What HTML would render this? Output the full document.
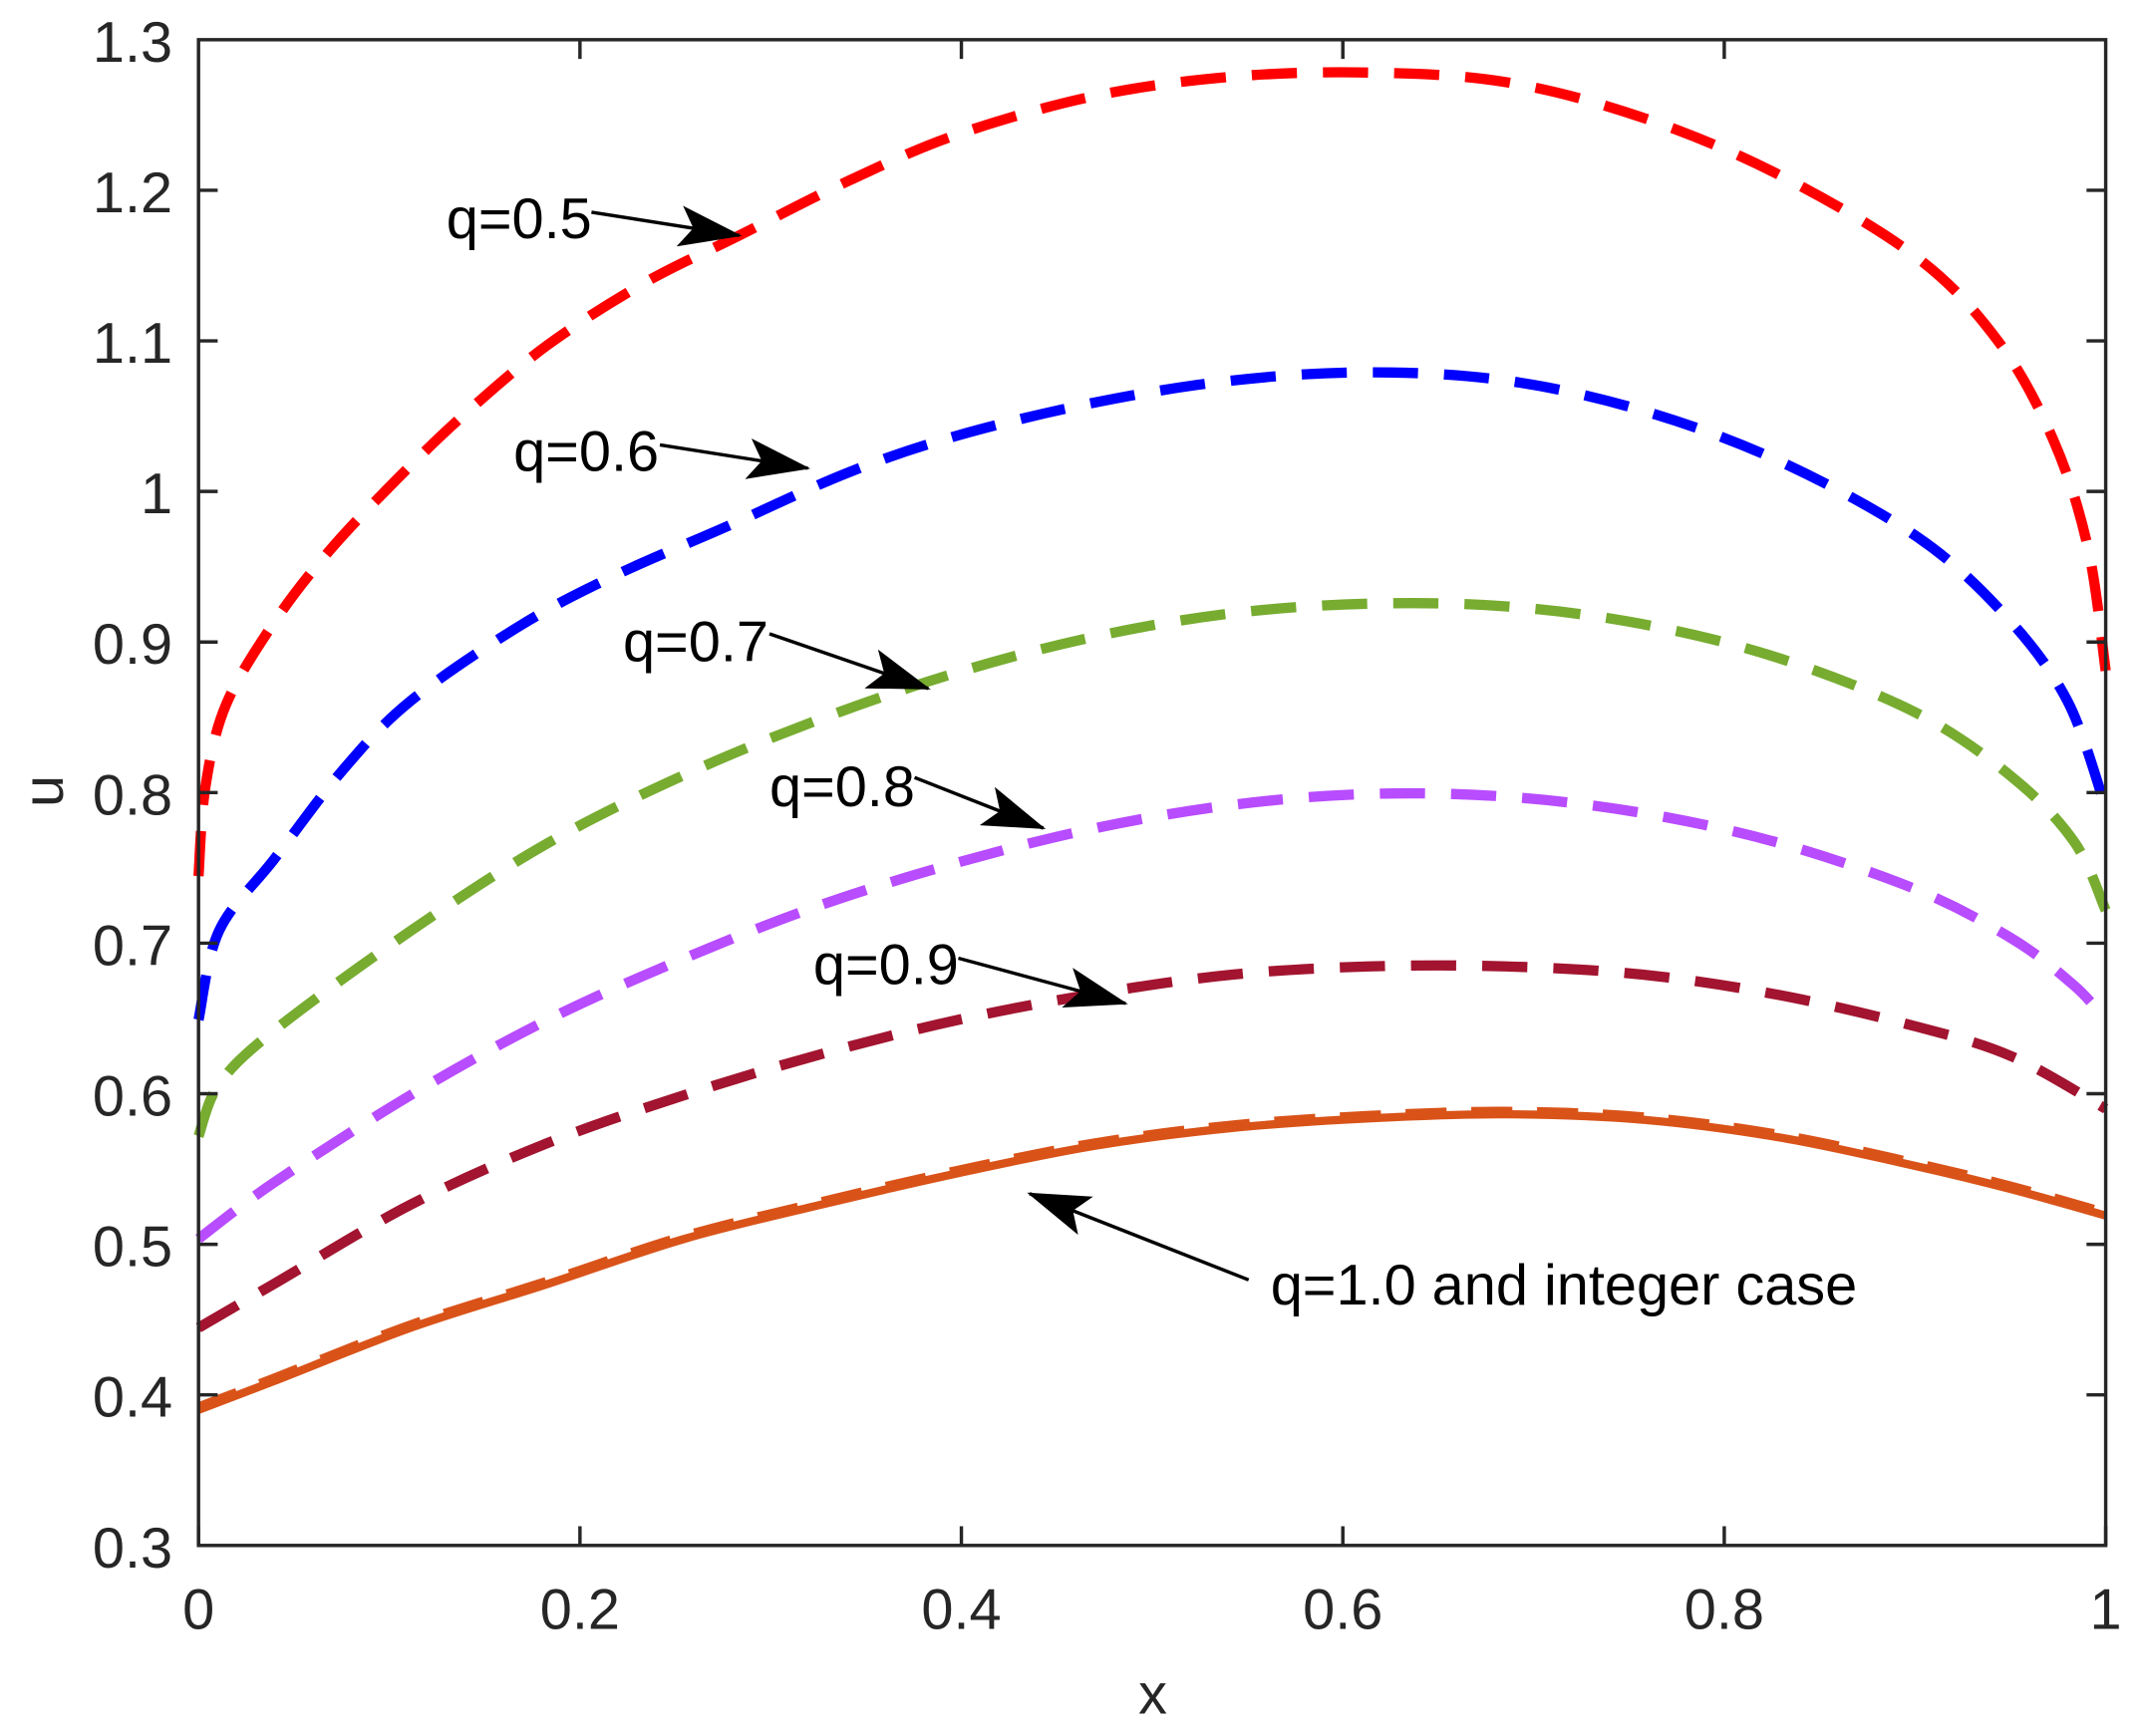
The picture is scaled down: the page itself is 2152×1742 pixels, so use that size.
<!DOCTYPE html>
<html><head><style>html,body{margin:0;padding:0;background:#fff}svg{display:block}</style></head>
<body>
<svg id="s" width="2152" height="1742" viewBox="0 0 1566.7 1268.2" xmlns="http://www.w3.org/2000/svg" font-family="Liberation Sans, sans-serif">
<rect width="1566.7" height="1268.2" fill="#fff"/>
<g fill="none" stroke-width="7.5" stroke-dasharray="33,19">
<path id="c1" stroke="#ff0000"/>
<path id="c2" stroke="#0000ff"/>
<path id="c3" stroke="#77ac30"/>
<path id="c4" stroke="#b84cff"/>
<path id="c5" stroke="#a2142f"/>
</g>
<path id="c6" fill="none" stroke="#d95319" stroke-width="6"/>
<path id="c7" fill="none" stroke="#d95319" stroke-width="7" stroke-dasharray="30,18"/>
<g stroke="#262626" stroke-width="2.5" fill="none">
<rect x="145" y="29" width="1393" height="1100"/>
<path d="M145,1129v-14M423.6,1129v-14M702.2,1129v-14M980.8,1129v-14M1259.4,1129v-14M1538,1129v-14M423.6,29v14M702.2,29v14M980.8,29v14M1259.4,29v14"/>
<path d="M145,139h14M145,249h14M145,359h14M145,469h14M145,579h14M145,689h14M145,799h14M145,909h14M145,1019h14M1538,139h-14M1538,249h-14M1538,359h-14M1538,469h-14M1538,579h-14M1538,689h-14M1538,799h-14M1538,909h-14M1538,1019h-14"/>
</g>
<g font-size="42" fill="#262626" text-anchor="end">
<text x="126" y="45">1.3</text><text x="126" y="155">1.2</text><text x="126" y="265">1.1</text><text x="126" y="375">1</text><text x="126" y="485">0.9</text><text x="126" y="595">0.8</text><text x="126" y="705">0.7</text><text x="126" y="815">0.6</text><text x="126" y="925">0.5</text><text x="126" y="1035">0.4</text><text x="126" y="1145">0.3</text>
</g>
<g font-size="42" fill="#262626" text-anchor="middle">
<text x="145" y="1190">0</text><text x="423.6" y="1190">0.2</text><text x="702.2" y="1190">0.4</text><text x="980.8" y="1190">0.6</text><text x="1259.4" y="1190">0.8</text><text x="1538" y="1190">1</text>
<text x="842" y="1252">x</text>
<text transform="translate(46,578) rotate(-90)">u</text>
</g>
<defs><marker id="a" markerWidth="46" markerHeight="30" refX="44" refY="15" orient="auto" markerUnits="userSpaceOnUse" viewBox="0 0 46 30"><path d="M0,0L46,15L0,30L10,15z" fill="#000"/></marker></defs>
<g stroke="#000" stroke-width="2.5">
<line x1="432" y1="155" x2="540" y2="172" marker-end="url(#a)"/>
<line x1="482" y1="325" x2="590" y2="342" marker-end="url(#a)"/>
<line x1="562" y1="463" x2="678" y2="503" marker-end="url(#a)"/>
<line x1="668" y1="568" x2="762" y2="605" marker-end="url(#a)"/>
<line x1="700" y1="700" x2="822" y2="733" marker-end="url(#a)"/>
<line x1="912" y1="935" x2="752" y2="872" marker-end="url(#a)"/>
</g>
<g font-size="42" fill="#000">
<text x="326" y="174">q=0.5</text>
<text x="375" y="344">q=0.6</text>
<text x="455" y="483">q=0.7</text>
<text x="562" y="589">q=0.8</text>
<text x="594" y="719">q=0.9</text>
<text x="928" y="953">q=1.0 and integer case</text>
</g>
</svg>
<script>
function cr(p){var d="M"+p[0][0]+","+p[0][1];for(var i=0;i<p.length-1;i++){var p0=p[i-1]||p[i],p1=p[i],p2=p[i+1],p3=p[i+2]||p2;
d+=" C"+(p1[0]+(p2[0]-p0[0])/6)+","+(p1[1]+(p2[1]-p0[1])/6)+" "+(p2[0]-(p3[0]-p1[0])/6)+","+(p2[1]-(p3[1]-p1[1])/6)+" "+p2[0]+","+p2[1];}return d;}
var D={
c1:[[145,640],[150,575],[165,515],[200,455],[240,403],[290,350],[340,302],[400,252],[470,207],[540,172],[620,132],[700,98],[800,70],[900,56],[1000,53],[1100,60],[1200,86],[1300,128],[1400,188],[1460,250],[1500,322],[1525,400],[1538,490]],
c2:[[145,745],[160,680],[200,628],[250,563],[300,512],[380,457],[450,420],[530,385],[620,345],[700,318],[800,294],[900,278],[1000,272],[1100,278],[1200,300],[1300,337],[1400,392],[1465,450],[1510,512],[1538,590]],
c3:[[145,830],[160,792],[200,753],[300,680],[400,616],[500,566],[600,525],[700,491],[800,465],[900,448],[1000,441],[1100,443],[1200,456],[1300,481],[1400,521],[1470,568],[1515,615],[1538,665]],
c4:[[145,905],[200,864],[300,800],[400,745],[500,700],[600,661],[700,630],[800,605],[900,588],[1000,580],[1100,582],[1200,594],[1300,616],[1400,650],[1470,686],[1515,720],[1538,745]],
c5:[[145,970],[200,938],[300,880],[400,835],[500,800],[600,770],[700,745],[800,726],[900,712],[1000,706],[1100,706],[1200,712],[1300,727],[1400,750],[1470,772],[1538,810]],
c6:[[145,1030],[200,1009],[300,970],[400,938],[500,905],[600,880],[700,857],[800,837],[900,824],[1000,817],[1100,814],[1200,818],[1300,831],[1400,852],[1470,869],[1538,888]]};
D.c7=D.c6.map(function(p){return [p[0],p[1]-2];});
for(var k in D)document.getElementById(k).setAttribute("d",cr(D[k]));
</script>
</body></html>
